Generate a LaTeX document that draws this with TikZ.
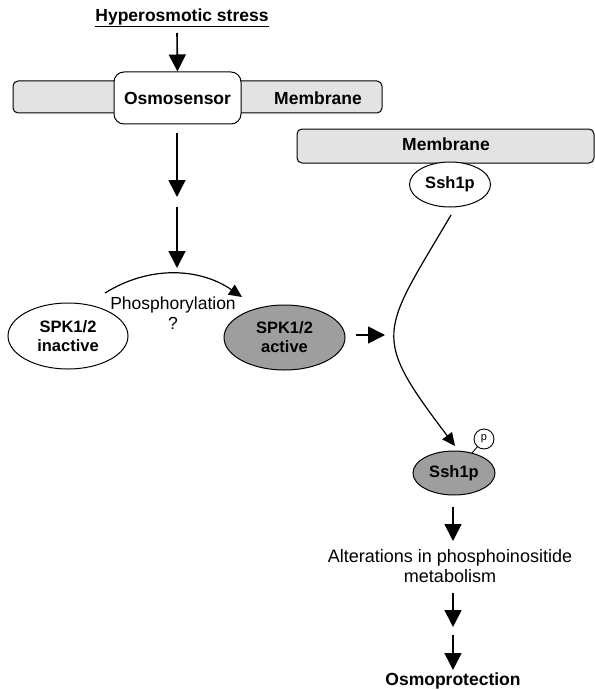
\documentclass[tikz,border=0pt]{standalone}
\usepackage{fontspec}
\setmainfont{Liberation Sans}
\usetikzlibrary{arrows.meta,shapes.geometric}
\definecolor{memgray}{gray}{0.89}
\definecolor{actgray}{gray}{0.62}
\begin{document}
\begin{tikzpicture}[x=1pt,y=-1pt,
  lbl/.style={font=\fontsize{17.5}{20}\selectfont\bfseries, inner sep=0pt, align=center},
  reglbl/.style={font=\fontsize{17.5}{20}\selectfont, inner sep=0pt, align=center},
  ell/.style={ellipse, draw, line width=1pt, font=\fontsize{16.5}{19}\selectfont\bfseries, inner sep=0pt, align=center},
  membr/.style={draw, line width=1pt, fill=memgray, rounded corners=5pt, inner sep=0pt},
  arr/.style={line width=1.6pt, -{Triangle[length=17pt,width=17pt]}},
  curvearr/.style={line width=1.2pt, -{Triangle[length=13pt,width=12pt]}}
]
\useasboundingbox (0,0) rectangle (594,690);
% top part
\node[lbl] (stress) at (182,18) {\underline{Hyperosmotic stress}};
\node[membr, minimum width=369pt, minimum height=32pt] (mem1) at (197.5,97) {};
\node[draw, line width=1pt, fill=white, rounded corners=10pt, minimum width=127pt, minimum height=52pt, lbl] (osmo) at (177.5,98) {Osmosensor};
\node[lbl] (mem1txt) at (318,98) {Membrane};
\coordinate (a1s) at (177,33);
\coordinate (a2s) at (177,133);
\coordinate (a2e) at (177,197);
\coordinate (a3s) at (177,207);
\coordinate (a3e) at (177,268);
\draw[arr] (a1s) -- (osmo.north);
\draw[arr] (a2s) -- (a2e);
\draw[arr] (a3s) -- (a3e);
% phosphorylation
\node[ell, minimum width=120pt, minimum height=66pt] (inact) at (68,336) {SPK1/2\\inactive};
\node[ell, fill=actgray, minimum width=121pt, minimum height=65pt] (act) at (284.5,337.5) {SPK1/2\\active};
\coordinate (pc1) at (105,293);
\coordinate (pc2) at (242,297);
\draw[curvearr] (pc1) .. controls (150,265) and (200,268) .. (pc2);
\node[reglbl] (phos) at (173,313) {Phosphorylation\\?};
\coordinate (sa) at (356,335);
\coordinate (sb) at (385,335);
\draw[arr] (sa) -- (sb);
% right side
\node[membr, minimum width=297pt, minimum height=34pt] (mem2) at (445.5,146) {};
\node[lbl] (mem2txt) at (446,144) {Membrane};
\node[ell, fill=white, minimum width=81pt, minimum height=45pt] (ssh1) at (450,184.5) {Ssh1p};
\node[ell, fill=actgray, minimum width=82pt, minimum height=44pt] (ssh1a) at (454,473) {Ssh1p};
\coordinate (cs) at (451,215);
\coordinate (ce) at (455,446);
\draw[curvearr] (cs) .. controls (381,334) and (370,334) .. (ce);
\node[circle, draw, line width=0.9pt, fill=white, minimum size=20pt, inner sep=0pt, font=\fontsize{11}{12}\selectfont] (pcirc) at (484,439) {p};
\coordinate (pl) at (472,453);
\draw[line width=0.9pt] (pl) -- (pcirc);
\coordinate (b1s) at (453,507);
\coordinate (b1e) at (453,541);
\draw[arr] (b1s) -- (b1e);
\node[font=\fontsize{18}{20}\selectfont, inner sep=0pt, align=center] (alt) at (450,566) {Alterations in phosphoinositide\\metabolism};
\coordinate (b2s) at (453,593);
\coordinate (b2e) at (453,627);
\draw[arr] (b2s) -- (b2e);
\coordinate (b3s) at (453,635);
\coordinate (b3e) at (453,670);
\draw[arr] (b3s) -- (b3e);
\node[lbl] (osmop) at (453,681) {Osmoprotection};
\end{tikzpicture}
\end{document}
